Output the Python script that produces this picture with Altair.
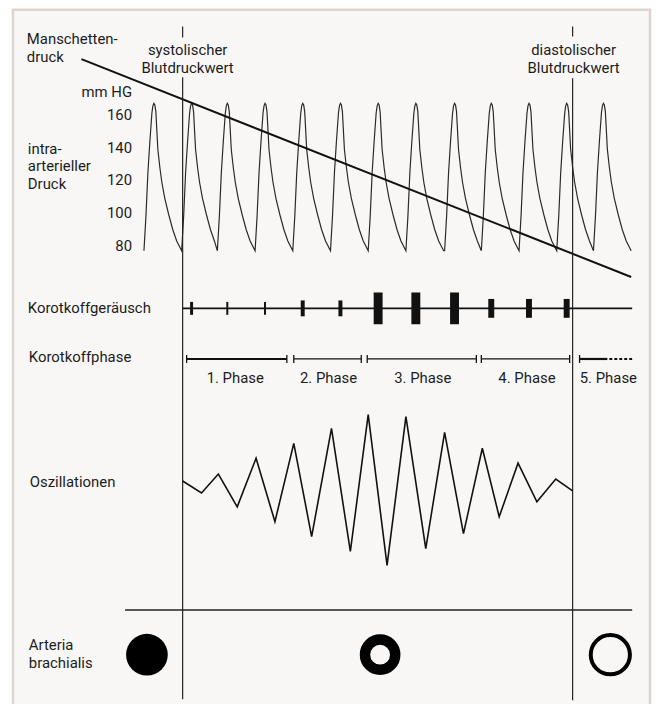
import altair as alt
import pandas as pd

# ---------------- data ----------------
# intra-arterial pressure: peak times and one pulse shape (offset from peak, mmHg)
peaks_t = [155, 193, 229, 267, 305, 343, 381, 419, 458, 495, 533, 571, 608]
cycle_dt = [-10, -8, -6, -4, -2, -1, 0, 1, 2, 4, 6, 8, 11, 15, 19, 23, 28]
cycle_mmhg = [77, 98, 125, 144, 161, 165.5, 167, 166, 162, 139, 128, 119, 109, 99, 90, 83, 77]

# cuff pressure (straight falling line)
cuff_t = [82, 636]
cuff_mmhg = [194, 61]

pressure_ticks = [80, 100, 120, 140, 160]

systolic_t = 184
diastolic_t = 577

# Korotkoff sounds
sound_t = [193, 229, 267, 305, 343, 381, 419, 458, 495, 533, 571]
sound_len = [13, 13, 13, 16, 16, 32, 32, 32, 19, 19, 19]
sound_thick = [3, 2, 2, 4, 4, 9, 9, 9, 6, 6, 6]

# Korotkoff phases
phase_names = ["1. Phase", "2. Phase", "3. Phase", "4. Phase", "5. Phase"]
phase_start = [188, 296, 370, 485, 584]
phase_end = [289, 364, 480, 574, 612]
phase_label_t = [237, 331, 426, 531, 613]
phase5_dotted_end = 637

# oscillations (amplitude, up = positive)
osc_t = [184, 203, 220, 239, 258, 277, 296, 314, 334, 353, 371,
         390, 409, 429, 448, 467, 486, 503, 522, 541, 560, 577]
osc_amp = [6, -6, 13, -20, 29, -35, 44, -50, 59, -65, 73,
           -79, 71, -62, 55, -47, 39, -30, 24, -15, 8, -4]

# arteria brachialis states
artery_t = [148, 383, 615]

# ---------------- layout ----------------
W, H = 650, 696
X_DOM = [8, 658]
Y_DOM = [8, 704]
ROW80, PX_PER_MM = 245, 1.65
MM_DOM = [80 - (Y_DOM[1] - ROW80) / PX_PER_MM, 80 + (ROW80 - Y_DOM[0]) / PX_PER_MM]

FONT = "Liberation Sans Narrow, Roboto, sans-serif"
FS = 15
INK = "#1c1c1c"

SOUND_ROW = 308
PHASE_ROW = 359
PHASE_LABEL_ROW = 378
OSC_ROW = 488
SEP_ROW = 612
ARTERY_ROW = 657


def xq(f):
    return alt.X(f, type="quantitative",
                 scale=alt.Scale(domain=X_DOM, nice=False, zero=False), axis=None)


def ypx(f):
    return alt.Y(f, type="quantitative",
                 scale=alt.Scale(domain=Y_DOM, reverse=True, nice=False, zero=False), axis=None)


def ymm(f):
    return alt.Y(f, type="quantitative",
                 scale=alt.Scale(domain=MM_DOM, nice=False, zero=False), axis=None)


def text_layer(df, align, yenc=ypx, size=FS):
    return alt.Chart(df).mark_text(
        align=align, baseline="middle", font=FONT, fontSize=size, color=INK
    ).encode(x=xq("x"), y=yenc("y"), text="label:N")


layers = []

# frame
frame = pd.DataFrame({"x": [13], "x2": [655], "y": [7], "y2": [720]})
layers.append(alt.Chart(frame).mark_rect(
    fill="#f9f7f6", stroke="#ddd3cf", strokeWidth=2.5
).encode(x=xq("x"), x2="x2", y=ypx("y"), y2="y2"))

# pulse waveform
rows = []
i = 0
for k, p in enumerate(peaks_t):
    nxt = peaks_t[k + 1] + cycle_dt[0] if k + 1 < len(peaks_t) else None
    for dt, v in zip(cycle_dt, cycle_mmhg):
        t = p + dt
        if nxt is not None and dt > 0 and t >= nxt:
            continue
        rows.append({"x": t, "y": v, "i": i})
        i += 1
wave = pd.DataFrame(rows)
layers.append(alt.Chart(wave).mark_line(color="#2a2a2a", strokeWidth=1.2).encode(
    x=xq("x"), y=ymm("y"), order="i:Q"))

# cuff pressure line
cuff = pd.DataFrame({"x": cuff_t, "y": cuff_mmhg})
layers.append(alt.Chart(cuff).mark_line(color="#111", strokeWidth=2).encode(
    x=xq("x"), y=ymm("y")))

# vertical marker lines (interrupted by their captions)
vlines = pd.DataFrame({
    "x": [systolic_t, systolic_t, diastolic_t, diastolic_t],
    "y": [24, 75, 24, 76],
    "y2": [35, 702, 34, 703],
})
layers.append(alt.Chart(vlines).mark_rule(color="#222", strokeWidth=1.2).encode(
    x=xq("x"), y=ypx("y"), y2="y2"))

# pressure tick labels
ticks = pd.DataFrame({"x": [133] * len(pressure_ticks), "y": pressure_ticks,
                      "label": [str(v) for v in pressure_ticks]})
layers.append(text_layer(ticks, "right", yenc=ymm))

# Korotkoff sound line + bursts
layers.append(alt.Chart(pd.DataFrame({"x": [systolic_t], "x2": [637], "y": [SOUND_ROW]}))
              .mark_rule(color="#111", strokeWidth=2)
              .encode(x=xq("x"), x2="x2", y=ypx("y")))
snd = pd.DataFrame({"t": sound_t, "h": sound_len, "w": sound_thick})
snd["x"] = snd["t"] - snd["w"] / 2
snd["x2"] = snd["t"] + snd["w"] / 2
snd["y"] = SOUND_ROW - snd["h"] / 2
snd["y2"] = SOUND_ROW + snd["h"] / 2
layers.append(alt.Chart(snd).mark_rect(color="#111").encode(
    x=xq("x"), x2="x2", y=ypx("y"), y2="y2"))

# Korotkoff phases
ph = pd.DataFrame({"name": phase_names, "x": phase_start, "x2": phase_end,
                   "y": [PHASE_ROW] * 5})
layers.append(alt.Chart(ph[ph["name"].isin(["1. Phase", "5. Phase"])])
              .mark_rule(color="#111", strokeWidth=2.2)
              .encode(x=xq("x"), x2="x2", y=ypx("y")))
layers.append(alt.Chart(ph[~ph["name"].isin(["1. Phase", "5. Phase"])])
              .mark_rule(color="#111", strokeWidth=1.3)
              .encode(x=xq("x"), x2="x2", y=ypx("y")))
ends = phase_start + phase_end[:4]
tk = pd.DataFrame({"x": ends, "y": [PHASE_ROW - 4] * len(ends), "y2": [PHASE_ROW + 4] * len(ends)})
layers.append(alt.Chart(tk).mark_rule(color="#111", strokeWidth=1.3).encode(
    x=xq("x"), y=ypx("y"), y2="y2"))
layers.append(alt.Chart(pd.DataFrame({"x": [phase_end[4] + 2], "x2": [phase5_dotted_end], "y": [PHASE_ROW]}))
              .mark_rule(color="#111", strokeWidth=2.2, strokeDash=[3, 2])
              .encode(x=xq("x"), x2="x2", y=ypx("y")))
plab = pd.DataFrame({"x": phase_label_t, "y": [PHASE_LABEL_ROW] * 5, "label": phase_names})
layers.append(text_layer(plab, "center"))

# oscillations
osc = pd.DataFrame({"x": osc_t, "amp": osc_amp, "i": range(len(osc_t))})
osc["y"] = OSC_ROW - osc["amp"]
layers.append(alt.Chart(osc).mark_line(color="#111", strokeWidth=1.6).encode(
    x=xq("x"), y=ypx("y"), order="i:Q"))

# separator
layers.append(alt.Chart(pd.DataFrame({"x": [126], "x2": [637], "y": [SEP_ROW]}))
              .mark_rule(color="#222", strokeWidth=1.6)
              .encode(x=xq("x"), x2="x2", y=ypx("y")))

# arteria brachialis: closed, partly open, open
art = pd.DataFrame({"x": artery_t, "y": [ARTERY_ROW] * 3})
layers.append(alt.Chart(art.iloc[[0]]).mark_point(
    shape="circle", filled=True, color="#000", opacity=1, size=1764
).encode(x=xq("x"), y=ypx("y")))
layers.append(alt.Chart(art.iloc[[1]]).mark_point(
    shape="circle", filled=False, color="#000", opacity=1, size=930, strokeWidth=10.5
).encode(x=xq("x"), y=ypx("y")))
layers.append(alt.Chart(art.iloc[[2]]).mark_point(
    shape="circle", filled=False, color="#000", opacity=1, size=1560, strokeWidth=4
).encode(x=xq("x"), y=ypx("y")))

# captions
left_labels = pd.DataFrame([
    (27, 37, "Manschetten-"), (27, 55, "druck"),
    (28, 147, "intra-"), (28, 165, "arterieller"), (28, 183, "Druck"),
    (28, 308, "Korotkoffgeräusch"), (29, 357, "Korotkoffphase"),
    (30, 483, "Oszillationen"), (29, 647, "Arteria"), (29, 665, "brachialis"),
], columns=["x", "y", "label"])
layers.append(text_layer(left_labels, "left"))
center_labels = pd.DataFrame([
    (189, 48, "systolischer"), (189, 66, "Blutdruckwert"),
    (578, 48, "diastolischer"), (578, 66, "Blutdruckwert"),
], columns=["x", "y", "label"])
layers.append(text_layer(center_labels, "center"))
layers.append(text_layer(pd.DataFrame([(133, 90, "mm HG")], columns=["x", "y", "label"]), "right"))

chart = alt.layer(*layers).resolve_scale(y="independent").properties(
    width=W, height=H, padding=0, autosize=alt.AutoSizeParams(type="none"),
    background="#ffffff"
).configure_view(stroke=None)

chart.save("out.html", embed_options={"renderer": "svg", "actions": False})
